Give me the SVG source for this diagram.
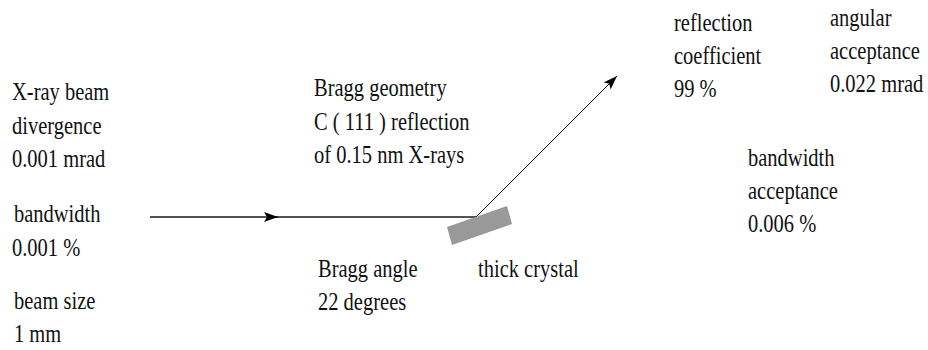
<svg xmlns="http://www.w3.org/2000/svg" width="928" height="350" viewBox="0 0 928 350">
<style>
text{font-family:'Liberation Serif','Times New Roman',serif;font-size:25px;fill:#111}
.beam{stroke:#1a1a1a;stroke-width:1.6;fill:none}
.ray{stroke:#1a1a1a;stroke-width:1;fill:none}
</style>
<defs>
<marker id="ah" viewBox="0 0 14 10" refX="14" refY="5" markerWidth="14" markerHeight="10" markerUnits="userSpaceOnUse" orient="auto">
<path d="M0,0 L14,5 L0,10 L3,5 z" fill="#000"/>
</marker>
</defs>
<rect width="928" height="350" fill="#fff"/>
<g id="connectors">
<line class="beam" x1="150" y1="217" x2="278" y2="217" marker-end="url(#ah)"/>
<line class="beam" x1="276" y1="217" x2="476" y2="217"/>
<line class="ray" x1="476" y1="217" x2="617" y2="76" marker-end="url(#ah)"/>
</g>
<g id="crystal">
<polygon points="447,227 507,206 512,224 452,245" fill="#999"/>
</g>
<g id="beam-divergence" transform="translate(12,0) scale(0.82,1)">
<text x="0" y="100">X-ray beam</text>
<text x="0" y="134">divergence</text>
<text x="0" y="167">0.001 mrad</text>
</g>
<g id="beam-bandwidth" transform="translate(12,0) scale(0.82,1)">
<text x="2.4" y="222">bandwidth</text>
<text x="0" y="256">0.001 %</text>
</g>
<g id="beam-size" transform="translate(14,0) scale(0.82,1)">
<text x="0" y="309">beam size</text>
<text x="0" y="342">1 mm</text>
</g>
<g id="geometry" transform="translate(314,0) scale(0.82,1)">
<text x="0" y="96">Bragg geometry</text>
<text x="0" y="130">C ( 111 ) reflection</text>
<text x="0" y="163">of 0.15 nm X-rays</text>
</g>
<g id="bragg-angle" transform="translate(318,0) scale(0.82,1)">
<text x="0" y="277">Bragg angle</text>
<text x="0" y="310">22 degrees</text>
</g>
<g id="thick-crystal" transform="translate(478,0) scale(0.82,1)">
<text x="0" y="277">thick crystal</text>
</g>
<g id="reflection-coefficient" transform="translate(674,0) scale(0.82,1)">
<text x="0" y="31">reflection</text>
<text x="0" y="64">coefficient</text>
<text x="0" y="97">99 %</text>
</g>
<g id="angular-acceptance" transform="translate(830,0) scale(0.82,1)">
<text x="0" y="26">angular</text>
<text x="0" y="59">acceptance</text>
<text x="0" y="92">0.022 mrad</text>
</g>
<g id="bandwidth-acceptance" transform="translate(748,0) scale(0.82,1)">
<text x="0" y="166">bandwidth</text>
<text x="0" y="199">acceptance</text>
<text x="0" y="232">0.006 %</text>
</g>
</svg>
